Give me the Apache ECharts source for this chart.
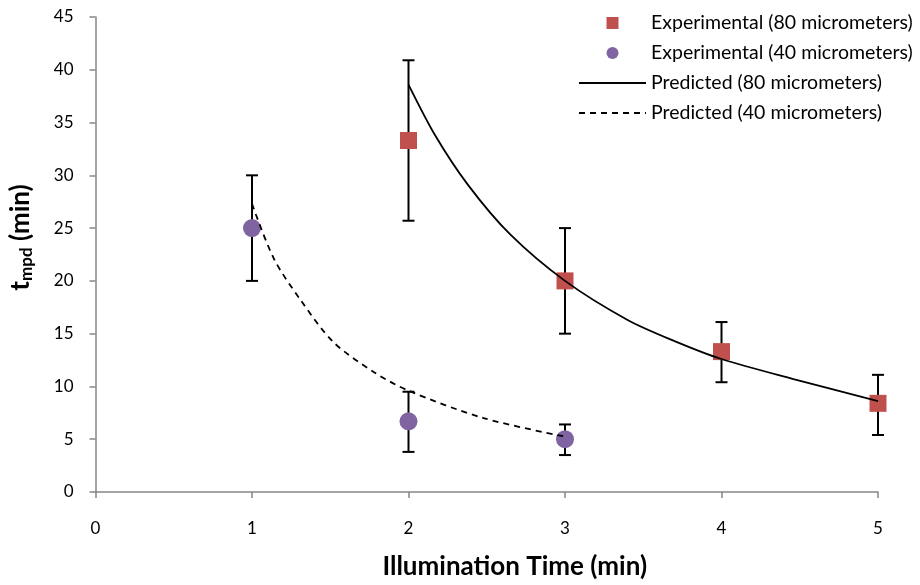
<!DOCTYPE html>
<html>
<head>
<meta charset="utf-8">
<script src="https://cdn.jsdelivr.net/npm/echarts@6/dist/echarts.min.js"></script>
<style>html,body{margin:0;padding:0;background:#fff}#c{width:920px;height:585px}</style>
</head>
<body>
<div id="c"></div>
<script>
// Experimental (80 micrometers)
const exp80X = [2, 3, 4, 5];
const exp80Y = [33.3, 20.0, 13.3, 8.4];
const exp80Lo = [25.7, 15.0, 10.4, 5.4];
const exp80Hi = [40.9, 25.0, 16.1, 11.1];
// Experimental (40 micrometers)
const exp40X = [1, 2, 3];
const exp40Y = [25.0, 6.7, 5.0];
const exp40Lo = [20.0, 3.8, 3.5];
const exp40Hi = [30.0, 9.5, 6.4];
// Predicted curves
const pred80X = [2.0, 2.17, 2.38, 2.65, 3.0, 3.4, 3.7, 4.0, 4.46, 5.0];
const pred80Y = [38.6, 33.8, 29.1, 24.4, 20.0, 16.3, 14.3, 12.6, 10.7, 8.6];
const pred40X = [1.0, 1.14, 1.31, 1.52, 1.78, 2.0, 2.48, 3.0];
const pred40Y = [27.3, 22.1, 18.2, 14.2, 11.35, 9.6, 7.0, 5.25];
const xTicks = [0, 1, 2, 3, 4, 5];
const yTicks = [0, 5, 10, 15, 20, 25, 30, 35, 40, 45];

const FONT = 'Lato';
const chart = echarts.init(document.getElementById('c'));

function zip(a, b) { return a.map((v, i) => [v, b[i]]); }
function errData(x, lo, hi) { return x.map((v, i) => [v, lo[i], hi[i]]); }

function errRender(params, api) {
  const x = api.value(0);
  const lo = api.coord([x, api.value(1)]);
  const hi = api.coord([x, api.value(2)]);
  const w = 6;
  const st = { stroke: '#000', lineWidth: 2 };
  return {
    type: 'group',
    children: [
      { type: 'line', shape: { x1: lo[0], y1: lo[1], x2: hi[0], y2: hi[1] }, style: st },
      { type: 'line', shape: { x1: lo[0] - w, y1: lo[1], x2: lo[0] + w, y2: lo[1] }, style: st },
      { type: 'line', shape: { x1: hi[0] - w, y1: hi[1], x2: hi[0] + w, y2: hi[1] }, style: st }
    ]
  };
}

chart.setOption({
  animation: false,
  backgroundColor: '#fff',
  textStyle: { fontFamily: FONT },
  grid: { left: 95, right: 42, top: 17, bottom: 85 },
  legend: {
    orient: 'vertical',
    left: 573,
    top: 8,
    itemWidth: 67,
    itemHeight: 12,
    itemGap: 10,
    symbolKeepAspect: true,
    textStyle: { fontFamily: FONT, fontSize: 19.5, color: '#000' },
    data: [
      { name: 'Experimental (80 micrometers)', icon: 'path://M0,0h10v10h-10z' },
      { name: 'Experimental (40 micrometers)', icon: 'circle' },
      { name: 'Predicted (80 micrometers)', itemStyle: { opacity: 0 } },
      { name: 'Predicted (40 micrometers)', itemStyle: { opacity: 0 } }
    ]
  },
  xAxis: {
    type: 'value', min: 0, max: 5, interval: 1,
    name: 'Illumination Time (min)', nameLocation: 'middle', nameGap: 62,
    nameTextStyle: { fontFamily: FONT, fontSize: 26, fontWeight: 'bold', color: '#000', padding: [0, 0, 0, 56] },
    axisLine: { show: true, lineStyle: { color: '#868686', width: 1.5 } },
    axisTick: { show: true, length: 6, lineStyle: { color: '#868686', width: 1.5 } },
    axisLabel: { fontSize: 17, color: '#000', margin: 28, fontFamily: FONT,
      formatter: v => xTicks.includes(v) ? String(v) : '' },
    splitLine: { show: false }
  },
  yAxis: {
    type: 'value', min: 0, max: 45, interval: 5,
    name: '{b|t}{s|mpd}{b| (min)}', nameLocation: 'middle', nameGap: 60,
    nameTextStyle: {
      padding: [0, 0, 0, 34],
      rich: {
        b: { fontFamily: FONT, fontSize: 26, fontWeight: 'bold', color: '#000' },
        s: { fontFamily: FONT, fontSize: 17, fontWeight: 'bold', color: '#000', padding: [12, 0, 0, 0] }
      }
    },
    axisLine: { show: true, lineStyle: { color: '#868686', width: 1.5 } },
    axisTick: { show: true, length: 6, lineStyle: { color: '#868686', width: 1.5 } },
    axisLabel: { fontSize: 17, color: '#000', margin: 22, fontFamily: FONT,
      formatter: v => yTicks.includes(v) ? String(v) : '' },
    splitLine: { show: false }
  },
  series: [
    {
      type: 'custom', name: 'err80', renderItem: errRender, data: errData(exp80X, exp80Lo, exp80Hi),
      encode: { x: 0, y: [1, 2] }, z: 1, silent: true
    },
    {
      type: 'custom', name: 'err40', renderItem: errRender, data: errData(exp40X, exp40Lo, exp40Hi),
      encode: { x: 0, y: [1, 2] }, z: 1, silent: true
    },
    {
      type: 'line', name: 'Predicted (80 micrometers)', data: zip(pred80X, pred80Y),
      smooth: 0.3, showSymbol: false, symbol: 'none', z: 3,
      lineStyle: { color: '#000', width: 1.8, type: 'solid' }, itemStyle: { color: '#000' }
    },
    {
      type: 'line', name: 'Predicted (40 micrometers)', data: zip(pred40X, pred40Y),
      smooth: 0.3, showSymbol: false, symbol: 'none', z: 3,
      lineStyle: { color: '#000', width: 1.8, type: [6, 5] }, itemStyle: { color: '#000' }
    },
    {
      type: 'scatter', name: 'Experimental (80 micrometers)', data: zip(exp80X, exp80Y),
      symbol: 'rect', symbolSize: 17, z: 2, itemStyle: { color: '#C0504D', opacity: 1 }
    },
    {
      type: 'scatter', name: 'Experimental (40 micrometers)', data: zip(exp40X, exp40Y),
      symbol: 'circle', symbolSize: 18, z: 2, itemStyle: { color: '#8064A2', opacity: 1 }
    }
  ]
});
</script>
</body>
</html>
